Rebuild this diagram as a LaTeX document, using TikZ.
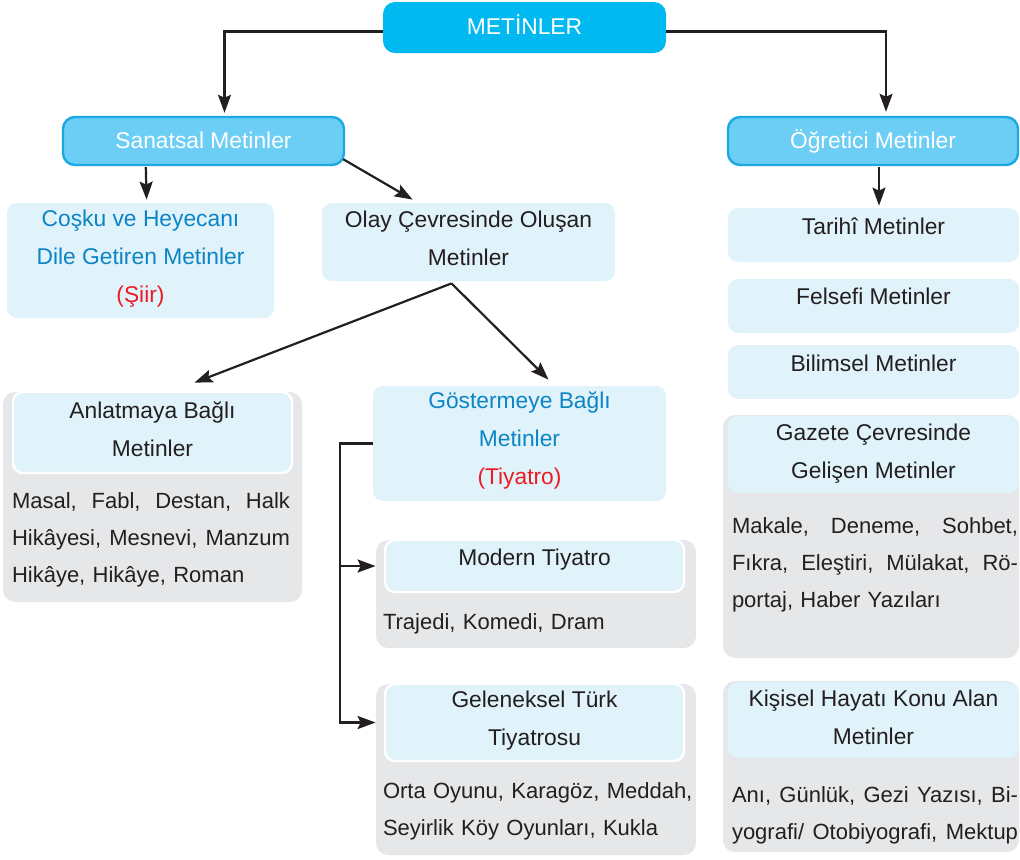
\documentclass[tikz,border=0pt]{standalone}
\usepackage{fontspec}
\setmainfont{Liberation Sans}
\usetikzlibrary{calc}
\usetikzlibrary{fit}
\usetikzlibrary{arrows.meta}
\definecolor{topblue}{RGB}{0,185,241}
\definecolor{headblue}{RGB}{108,206,245}
\definecolor{headline}{RGB}{27,169,225}
\definecolor{paleblue}{RGB}{224,242,250}
\definecolor{panelgray}{RGB}{230,231,232}
\definecolor{textblue}{RGB}{12,132,198}
\definecolor{textred}{RGB}{237,28,36}
\definecolor{textblack}{RGB}{35,31,32}
\newcommand{\RED}[1]{\textcolor{textred}{#1}}
\newcommand{\tstrut}{\rule{0pt}{10pt}}
\newcommand{\bstrut}{\rule[-3pt]{0pt}{3pt}}

\begin{document}
\begin{tikzpicture}[x=0.5pt, y=-0.5pt,
  font=\fontsize{11.4}{19}\selectfont, text=textblack,
  every node/.style={inner sep=0pt, execute at begin node=\tstrut, execute at end node=\bstrut},
  rootbox/.style={fill=topblue, rounded corners=6pt},
  headbox/.style={draw=headline, line width=1.2pt, fill=headblue, rounded corners=6pt},
  palebox/.style={fill=paleblue, rounded corners=5pt},
  whitebox/.style={palebox, draw=white, line width=1.2pt},
  panel/.style={fill=panelgray, rounded corners=6pt},
  title/.style={align=center},
  body/.style={align=left, text width=#1, font=\fontsize{11}{18.5}\selectfont},
  conn/.style={line width=1.1pt, draw=textblack, -{Stealth[length=9pt, width=6.5pt, inset=1.5pt]}}]
  \useasboundingbox (0,0) rectangle (1020,859);

  % top row
  \node[rootbox, fit={(383,2) (666,53)}] (metinler) {};
  \node[title, text=white] (metinlertext) at (metinler) {METİNLER};
  \node[headbox, fit={(63,117) (344,165)}] (sanatsal) {};
  \node[title, text=white] (sanatsaltext) at (sanatsal) {Sanatsal Metinler};
  \node[headbox, fit={(728,117) (1018,165)}] (ogretici) {};
  \node[title, text=white] (ogreticitext) at (ogretici) {Öğretici Metinler};

  % sanatsal metinler
  \node[palebox, fit={(7,203) (274,318)}] (cosku) {};
  \node[title, text=textblue] (coskutext) at ($(cosku)+(0,-1)$) {Coşku ve Heyecanı\\Dile Getiren Metinler\\\RED{(Şiir)}};
  \node[palebox, fit={(322,203) (615,281)}] (olay) {};
  \node[title] (olaytext) at ($(olay)+(0,-1)$) {Olay Çevresinde Oluşan\\Metinler};

  \node[panel, fit={(3,392) (302,602)}] (anlatmayapanel) {};
  \node[whitebox, fit={(13,392) (292,473)}] (anlatmaya) {};
  \node[title] (anlatmayatext) at (anlatmaya) {Anlatmaya Bağlı\\Metinler};
  \node[body=139pt] (anlatmayabody) at (151,538) {Masal,\hfill Fabl,\hfill Destan,\hfill Halk\\Hikâyesi,\hfill Mesnevi,\hfill Manzum\\Hikâye, Hikâye, Roman};

  \node[palebox, fit={(373,386) (666,501)}] (gostermeye) {};
  \node[title, text=textblue] (gostermeyetext) at ($(gostermeye)+(0,-2)$) {Göstermeye Bağlı\\Metinler\\\RED{(Tiyatro)}};

  \node[panel, fit={(376,540) (696,648)}] (modernpanel) {};
  \node[whitebox, fit={(385,540) (684,592)}] (modern) {};
  \node[title] (moderntext) at ($(modern)+(0,-8)$) {Modern Tiyatro};
  \node[body=150pt] (modernbody) at (533,622) {Trajedi, Komedi, Dram};

  \node[panel, fit={(376,684) (696,855)}] (gelenekselpanel) {};
  \node[whitebox, fit={(385,684) (684,761)}] (geleneksel) {};
  \node[title] (gelenekseltext) at ($(geleneksel)+(0,-1)$) {Geleneksel Türk\\Tiyatrosu};
  \node[body=156pt] (gelenekselbody) at (539,810) {Orta Oyunu, Karagöz, Meddah,\\Seyirlik Köy Oyunları, Kukla};

  % ogretici metinler
  \node[palebox, fit={(728,208) (1019,262)}] (tarihi) {};
  \node[title] (tarihitext) at ($(tarihi)+(0,-8)$) {Tarihî Metinler};
  \node[palebox, fit={(728,279) (1019,333)}] (felsefi) {};
  \node[title] (felsefitext) at ($(felsefi)+(0,-9)$) {Felsefi Metinler};
  \node[palebox, fit={(728,345) (1019,399)}] (bilimsel) {};
  \node[title] (bilimseltext) at ($(bilimsel)+(0,-8)$) {Bilimsel Metinler};

  \node[panel, fit={(723,415) (1019,658)}] (gazetepanel) {};
  \node[palebox, fit={(728,416) (1019,493)}] (gazete) {};
  \node[title] (gazetetext) at (gazete) {Gazete Çevresinde\\Gelişen Metinler};
  \node[body=143pt] (gazetebody) at (875,563) {Makale,\hfill Deneme,\hfill Sohbet,\\Fıkra,\hfill Eleştiri,\hfill Mülakat,\hfill Rö-\\portaj, Haber Yazıları};

  \node[panel, fit={(723,681) (1019,852)}] (kisiselpanel) {};
  \node[palebox, fit={(728,682) (1019,758)}] (kisisel) {};
  \node[title] (kisiseltext) at (kisisel) {Kişisel Hayatı Konu Alan\\Metinler};
  \node[body=143pt] (kisiselbody) at (875,814) {Anı,\hfill Günlük,\hfill Gezi\hfill Yazısı,\hfill Bi-\\yografi/\hfill Otobiyografi,\hfill Mektup};

  % arrows
  \draw[conn] ($(metinler.west)+(0,4)$) -| ($(sanatsal.north)+(21,-3)$);
  \draw[conn] ($(metinler.east)+(0,4)$) -| ($(ogretici.north)+(13,-4)$);
  \draw[conn] ($(sanatsal.south west)+(84,1)$) -- ($(cosku.north west)+(140,-3)$);
  \draw[conn] ($(sanatsal.south east)+(-2,-7)$) -- ($(olay.north west)+(91,-3)$);
  \draw[conn] ($(ogretici.south)+(6,1)$) -- ($(tarihi.north)+(5.5,-2)$);

  \coordinate (fork) at ($(olay.south)+(-17,2)$);
  \draw[conn] (fork) -- ($(anlatmayapanel.north)+(42,-9)$);
  \draw[conn] (fork) -- ($(gostermeye.north)+(29,-6)$);

  \draw[conn] (gostermeye.west) -- ++(-33,0) |- (modernpanel.west |- modern.west);
  \draw[conn] (gostermeye.west) -- ++(-33,0) |- (gelenekselpanel.west |- geleneksel.west);
\end{tikzpicture}
\end{document}
